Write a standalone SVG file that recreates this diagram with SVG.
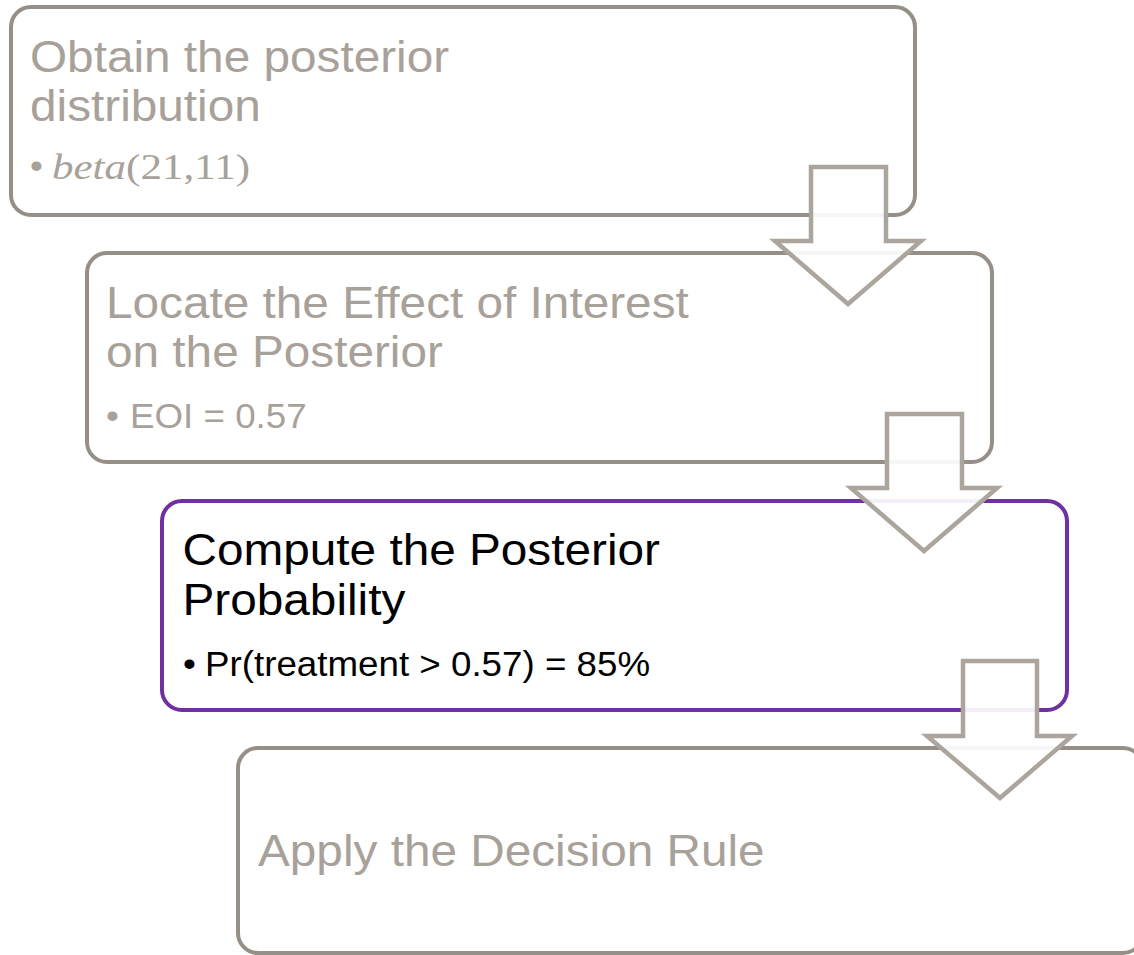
<svg xmlns="http://www.w3.org/2000/svg" width="1134" height="955" viewBox="0 0 1134 955">
<style>
.box{fill:#ffffff;stroke:#968f87;stroke-width:4}
.box.active{stroke:#7030a0}
.arrow{fill:#ffffff;fill-opacity:0.92;stroke:#aba59d;stroke-width:4.5;stroke-linejoin:miter}
.title{font-family:"Liberation Sans",Arial,sans-serif;font-size:44px;fill:#a8a199}
.sub{font-family:"Liberation Sans",Arial,sans-serif;font-size:34.5px;fill:#a8a199}
.math{font-family:"Liberation Serif","Times New Roman",serif;font-size:36px;fill:#a8a199}
.dark{fill:#000000}
</style>
<rect width="1134" height="955" fill="#ffffff"/>
<g id="node1">
<rect class="box" x="11" y="7" width="904" height="208" rx="20" ry="20"/>
<text class="title" transform="translate(30,72) scale(1.085,1)">Obtain the posterior<tspan x="0" dy="49">distribution</tspan></text>
<text class="sub" transform="translate(30,178) scale(1.065,1)">•</text>
<text class="math" x="52" y="179" textLength="198" lengthAdjust="spacingAndGlyphs"><tspan font-style="italic">beta</tspan>(21,11)</text>
</g>
<g id="node2">
<rect class="box" x="87" y="253" width="905" height="209" rx="20" ry="20"/>
<text class="title" transform="translate(106,318) scale(1.085,1)">Locate the Effect of Interest<tspan x="0" dy="49">on the Posterior</tspan></text>
<text class="sub" transform="translate(106,428) scale(1.065,1)">•</text>
<text class="sub" transform="translate(130,428) scale(1.065,1)">EOI = 0.57</text>
</g>
<g id="node3">
<rect class="box active" x="162" y="501" width="905" height="209" rx="20" ry="20"/>
<text class="title dark" transform="translate(182.5,565) scale(1.085,1)">Compute the Posterior<tspan x="0" dy="50">Probability</tspan></text>
<text class="sub dark" transform="translate(183,676) scale(1.065,1)">•</text>
<text class="sub dark" transform="translate(205,676) scale(1.065,1)">Pr(treatment &gt; 0.57) = 85%</text>
</g>
<g id="node4">
<rect class="box" x="238" y="748" width="905" height="205" rx="20" ry="20"/>
<text class="title" transform="translate(258,866) scale(1.085,1)">Apply the Decision Rule</text>
</g>
<g id="connectors">
<polygon class="arrow" points="811,167 886,167 886,241 921,241 848,304 775,241 811,241"/>
<polygon class="arrow" points="887,414 962,414 962,488 997,488 924,551 851,488 887,488"/>
<polygon class="arrow" points="963,661 1037,661 1037,736 1072,736 1000,798 927,736 963,736"/>
</g>
</svg>
